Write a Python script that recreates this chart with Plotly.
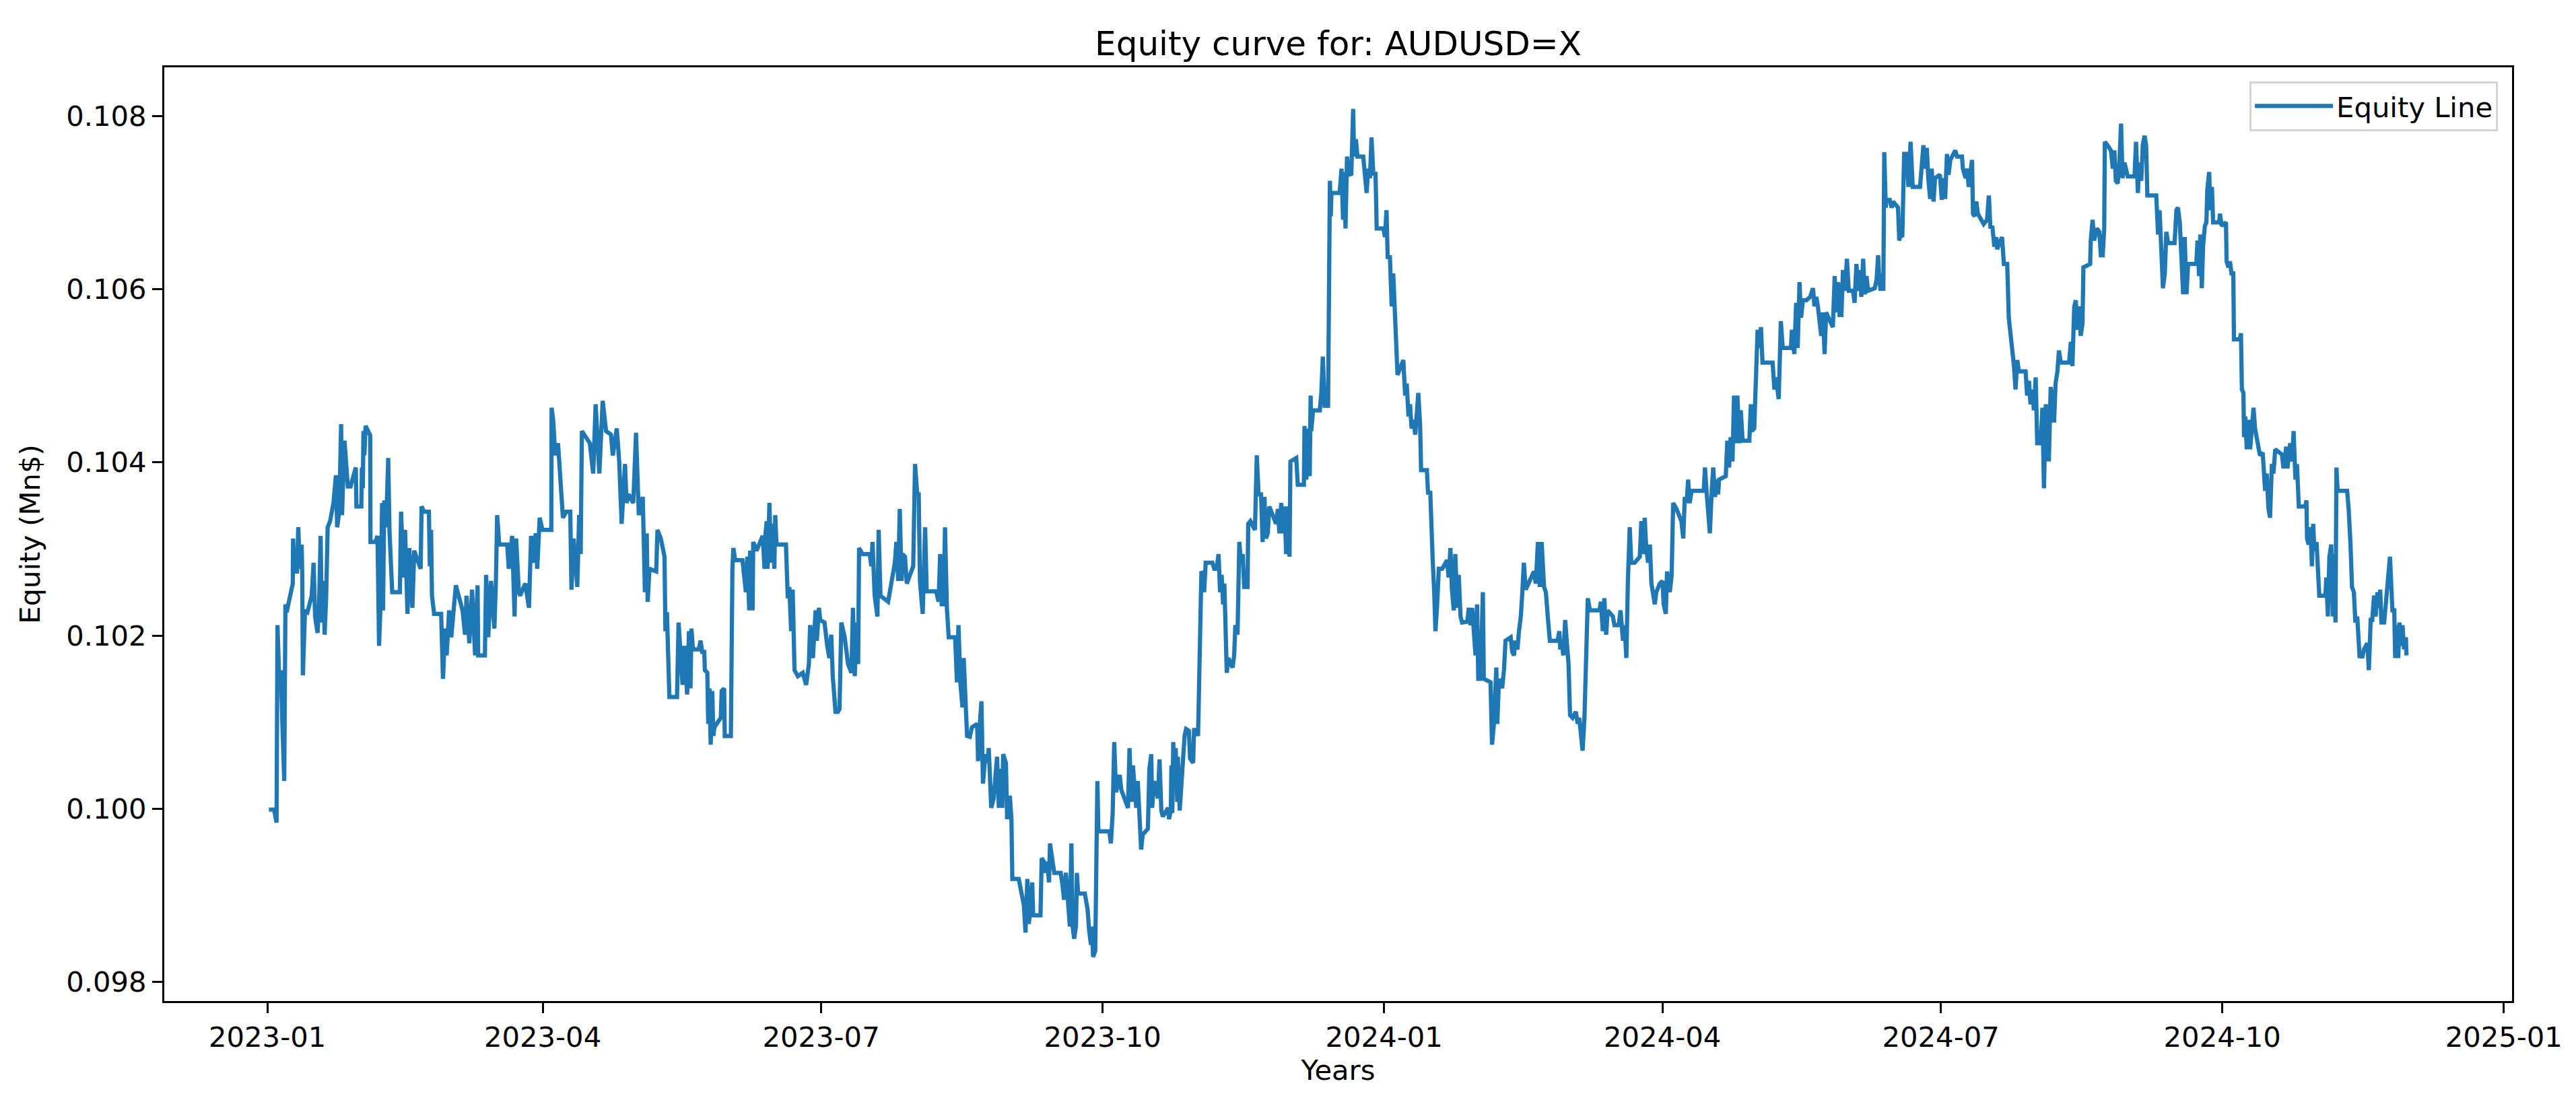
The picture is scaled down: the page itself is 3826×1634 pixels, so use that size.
import numpy as np
import pandas as pd
import plotly.graph_objects as go

# Equity curve: day offsets from 2023-01-01 and equity (Mn$)
START = pd.Timestamp("2023-01-01")

# Jan - mid May 2023
days_a = [0.5, 2.2, 3.0, 3.3, 3.9, 4.4, 4.9, 5.5, 5.9, 6.3,
          8.3, 8.4, 8.8, 9.7, 10.1, 10.6, 11.2, 11.4, 11.6, 12.3,
          13.1, 14.5, 15.1, 15.6, 16.4, 16.9, 17.4, 17.8, 18.3, 18.7,
          19.2, 19.7, 20.5, 21.6, 22.4, 22.8, 23.5, 24.1, 24.4, 25.2,
          25.7, 26.3, 27.2, 28.9, 29.1, 30.7, 30.9, 31.2, 31.4, 31.7,
          32.1, 33.6, 33.7, 35.3, 36.0, 36.5, 37.0, 37.5, 37.8, 38.2,
          38.8, 39.5, 39.9, 40.8, 43.3, 43.7, 44.5, 45.0, 45.8, 46.4,
          47.4, 48.0, 50.1, 50.4, 51.2, 52.8, 53.1, 53.5, 53.8, 54.5,
          56.8, 57.4, 58.1, 58.6, 59.4, 60.1, 61.6, 63.8, 64.6, 65.1,
          66.0, 66.9, 67.9, 68.7, 68.9, 71.1, 71.5, 72.2, 73.1, 74.2,
          74.7, 75.1, 75.8, 78.4, 78.9, 80.0, 80.8, 81.3, 82.2, 82.6,
          84.3, 85.5, 86.2, 87.1, 87.7, 88.2, 89.0, 89.9, 92.8, 92.9,
          93.4, 94.1, 95.0, 96.6, 97.7, 99.0, 99.4, 100.1, 101.3, 101.9,
          102.4, 102.8, 105.4, 106.5, 107.3, 108.5, 109.6, 110.7, 112.3, 112.9,
          114.2, 115.0, 115.8, 116.4, 116.9, 117.4, 118.1, 119.6, 120.5, 121.4,
          122.7, 123.4, 124.0, 124.3, 124.9, 127.1, 127.5, 128.6, 129.8, 130.1,
          130.6, 131.4, 133.9, 134.4, 135.7, 136.3, 137.2]
equity_a = [0.09999, 0.09999, 0.09984, 0.10212, 0.10146, 0.10160, 0.10098, 0.10032, 0.10236, 0.10227,
            0.10260, 0.10312, 0.10274, 0.10274, 0.10325, 0.10277, 0.10305, 0.10270, 0.10154, 0.10229,
            0.10227, 0.10246, 0.10284, 0.10222, 0.10203, 0.10236, 0.10315, 0.10215, 0.10263, 0.10201,
            0.10243, 0.10325, 0.10332, 0.10353, 0.10385, 0.10325, 0.10343, 0.10444, 0.10339, 0.10425,
            0.10401, 0.10372, 0.10372, 0.10394, 0.10349, 0.10349, 0.10394, 0.10370, 0.10436, 0.10408,
            0.10442, 0.10431, 0.10308, 0.10308, 0.10315, 0.10188, 0.10236, 0.10353, 0.10229, 0.10356,
            0.10325, 0.10405, 0.10322, 0.10250, 0.10250, 0.10343, 0.10267, 0.10322, 0.10225, 0.10301,
            0.10232, 0.10298, 0.10277, 0.10349, 0.10343, 0.10343, 0.10280, 0.10322, 0.10246, 0.10225,
            0.10225, 0.10150, 0.10208, 0.10177, 0.10229, 0.10198, 0.10258, 0.10229, 0.10201, 0.10246,
            0.10191, 0.10253, 0.10177, 0.10258, 0.10177, 0.10177, 0.10270, 0.10198, 0.10263, 0.10208,
            0.10263, 0.10339, 0.10305, 0.10305, 0.10277, 0.10315, 0.10222, 0.10312, 0.10250, 0.10246,
            0.10260, 0.10232, 0.10315, 0.10284, 0.10318, 0.10277, 0.10336, 0.10322, 0.10322, 0.10463,
            0.10449, 0.10408, 0.10422, 0.10336, 0.10343, 0.10343, 0.10253, 0.10312, 0.10256, 0.10339,
            0.10294, 0.10436, 0.10422, 0.10387, 0.10467, 0.10387, 0.10471, 0.10436, 0.10432, 0.10408,
            0.10439, 0.10401, 0.10329, 0.10370, 0.10398, 0.10353, 0.10363, 0.10353, 0.10434, 0.10339,
            0.10360, 0.10250, 0.10318, 0.10239, 0.10277, 0.10274, 0.10322, 0.10312, 0.10291, 0.10205,
            0.10227, 0.10129, 0.10129, 0.10215, 0.10143, 0.10188, 0.10132]

# mid May - early Nov 2023
days_b = [137.3, 137.8, 138.3, 138.6, 139.1, 141.0, 141.6, 142.1, 142.8, 143.0,
          143.8, 144.1, 144.5, 144.9, 145.4, 145.8, 146.1, 148.2, 148.5, 149.3,
          149.5, 151.5, 151.7, 152.0, 152.3, 152.9, 155.3, 155.8, 156.4, 156.9,
          157.5, 157.8, 158.6, 158.8, 159.9, 161.9, 162.5, 162.7, 163.2, 163.5,
          164.1, 164.6, 165.2, 165.7, 166.0, 166.4, 169.5, 170.1, 170.6, 171.2,
          171.7, 172.3, 173.4, 175.0, 176.1, 177.0, 177.4, 178.3, 179.2, 179.6,
          180.3, 180.7, 182.1, 183.0, 183.7, 184.3, 184.8, 185.7, 186.5, 187.0,
          187.6, 188.7, 189.8, 190.9, 191.4, 192.0, 192.5, 193.1, 193.4, 194.5,
          196.9, 197.4, 197.8, 198.5, 199.4, 199.8, 200.4, 202.9, 204.2, 205.1,
          205.6, 206.2, 206.7, 207.3, 207.6, 208.4, 209.0, 211.1, 211.7, 212.4,
          212.9, 213.3, 214.2, 215.0, 215.5, 218.6, 219.4, 219.9, 220.4, 221.0,
          221.5, 222.1, 222.7, 224.8, 225.4, 225.9, 226.5, 227.2, 227.6, 228.1,
          228.7, 229.6, 230.3, 232.0, 232.3, 232.8, 233.4, 233.9, 234.7, 235.3,
          235.8, 236.6, 237.4, 238.5, 239.1, 239.6, 240.2, 240.5, 241.4, 241.8,
          242.7, 243.2, 243.5, 245.6, 246.7, 247.3, 247.8, 248.4, 248.9, 249.5,
          250.0, 250.3, 252.7, 253.1, 253.8, 254.4, 254.9, 255.5, 255.8, 257.2,
          259.3, 259.9, 260.4, 261.0, 261.5, 262.3, 262.8, 263.2, 263.7, 264.3,
          264.6, 265.0, 267.2, 268.1, 268.6, 269.2, 269.5, 269.9, 270.6, 270.9,
          271.3, 271.6, 272.0, 275.2, 275.7, 276.3, 276.8, 277.4, 278.6, 279.1,
          281.3, 281.8, 282.4, 282.9, 283.4, 284.0, 284.5, 285.0, 285.6, 286.1,
          287.8, 288.3, 288.9, 289.2, 289.8, 291.1, 291.6, 292.2, 292.7, 294.4,
          294.7, 295.3, 295.5, 295.8, 296.1, 296.6, 296.9, 297.4, 297.6, 298.2,
          298.7, 299.3, 299.8, 300.3, 301.2, 301.6, 302.6, 302.9, 303.7, 304.2,
          304.6, 305.0, 305.3, 305.9]
equity_b = [0.10139, 0.10205, 0.10139, 0.10208, 0.10184, 0.10184, 0.10194, 0.10181, 0.10181, 0.10160,
            0.10157, 0.10098, 0.10139, 0.10074, 0.10136, 0.10084, 0.10094, 0.10105, 0.10136, 0.10139,
            0.10084, 0.10084, 0.10222, 0.10277, 0.10301, 0.10287, 0.10287, 0.10267, 0.10250, 0.10291,
            0.10229, 0.10298, 0.10229, 0.10308, 0.10298, 0.10315, 0.10277, 0.10312, 0.10332, 0.10277,
            0.10353, 0.10284, 0.10329, 0.10277, 0.10339, 0.10305, 0.10305, 0.10243, 0.10256, 0.10205,
            0.10253, 0.10160, 0.10153, 0.10157, 0.10143, 0.10167, 0.10212, 0.10174, 0.10229, 0.10194,
            0.10232, 0.10218, 0.10215, 0.10188, 0.10174, 0.10201, 0.10153, 0.10112, 0.10112, 0.10115,
            0.10215, 0.10198, 0.10167, 0.10157, 0.10232, 0.10153, 0.10215, 0.10167, 0.10301, 0.10294,
            0.10294, 0.10280, 0.10308, 0.10246, 0.10222, 0.10322, 0.10246, 0.10239, 0.10270, 0.10284,
            0.10308, 0.10263, 0.10346, 0.10263, 0.10294, 0.10291, 0.10260, 0.10280, 0.10398, 0.10363,
            0.10363, 0.10263, 0.10225, 0.10325, 0.10251, 0.10251, 0.10239, 0.10294, 0.10236, 0.10236,
            0.10325, 0.10232, 0.10198, 0.10198, 0.10146, 0.10212, 0.10146, 0.10117, 0.10174, 0.10122,
            0.10084, 0.10083, 0.10094, 0.10098, 0.10055, 0.10094, 0.10124, 0.10029, 0.10063, 0.10053,
            0.10070, 0.10001, 0.10012, 0.10060, 0.10001, 0.10046, 0.10001, 0.10063, 0.10053, 0.09988,
            0.10015, 0.09988, 0.09919, 0.09919, 0.09895, 0.09888, 0.09857, 0.09919, 0.09867, 0.09891,
            0.09915, 0.09877, 0.09877, 0.09943, 0.09939, 0.09926, 0.09939, 0.09915, 0.09960, 0.09926,
            0.09926, 0.09912, 0.09895, 0.09926, 0.09895, 0.09864, 0.09960, 0.09864, 0.09850, 0.09864,
            0.09926, 0.09902, 0.09902, 0.09884, 0.09860, 0.09843, 0.09864, 0.09829, 0.09836, 0.09919,
            0.10032, 0.09977, 0.09974, 0.09974, 0.09960, 0.09995, 0.10077, 0.10019, 0.10039, 0.10022,
            0.10001, 0.10070, 0.10008, 0.10050, 0.10022, 0.10001, 0.10032, 0.09995, 0.09953, 0.09970,
            0.09977, 0.10046, 0.10063, 0.10001, 0.10032, 0.10012, 0.10057, 0.09998, 0.09991, 0.10001,
            0.09988, 0.09998, 0.10050, 0.09995, 0.10077, 0.10029, 0.10070, 0.10008, 0.10060, 0.09998,
            0.10029, 0.10057, 0.10084, 0.10092, 0.10090, 0.10058, 0.10053, 0.10091, 0.10091, 0.10084,
            0.10160, 0.10246, 0.10274, 0.10270]

# Nov 2023 - mid Apr 2024
days_c = [306.2, 306.7, 308.9, 309.5, 310.3, 310.9, 311.4, 311.9, 312.4, 312.8,
          313.3, 313.6, 314.1, 315.5, 316.0, 316.4, 317.1, 317.7, 318.2, 318.8,
          319.3, 320.4, 320.6, 321.3, 322.8, 323.4, 324.0, 324.8, 325.3, 325.9,
          326.4, 327.0, 327.5, 329.7, 330.3, 330.8, 331.4, 331.9, 332.5, 333.0,
          333.5, 334.1, 334.4, 336.3, 336.8, 338.8, 339.0, 339.6, 340.1, 340.7,
          341.0, 341.2, 341.8, 344.0, 344.5, 345.0, 345.6, 346.1, 346.7, 346.9,
          347.3, 347.6, 347.8, 350.5, 351.1, 351.6, 352.0, 352.4, 352.9, 353.5,
          354.3, 354.9, 355.2, 355.8, 356.3, 358.2, 358.7, 359.3, 359.8, 360.4,
          360.9, 361.5, 362.2, 362.6, 364.8, 365.3, 365.8, 366.2, 366.9, 367.5,
          368.0, 368.6, 369.1, 369.4, 370.2, 371.3, 371.9, 372.4, 373.0, 373.5,
          374.0, 374.6, 375.2, 375.7, 376.2, 376.8, 377.1, 379.0, 379.4, 380.1,
          380.5, 380.9, 381.4, 381.8, 382.3, 382.9, 384.0, 385.6, 386.1, 386.7,
          387.2, 387.8, 388.3, 388.9, 389.4, 390.0, 390.5, 392.2, 392.7, 393.3,
          393.8, 394.4, 394.9, 395.4, 395.8, 396.5, 397.3, 397.6, 399.8, 400.3,
          400.9, 401.7, 402.0, 402.5, 403.1, 403.6, 404.2, 404.7, 406.4, 406.9,
          407.5, 407.8, 408.6, 409.1, 409.7, 410.2, 410.7, 411.3, 412.6, 414.0,
          414.6, 415.3, 415.9, 416.5, 417.3, 417.9, 418.6, 419.2, 421.7, 422.3,
          422.6, 423.1, 423.6, 424.2, 424.7, 425.3, 425.8, 426.6, 427.7, 428.3,
          428.8, 429.4, 429.9, 430.5, 431.0, 431.6, 432.3, 435.4, 435.9, 436.5,
          437.0, 437.6, 438.1, 439.2, 439.8, 440.3, 441.7, 442.3, 443.1, 443.6,
          444.2, 444.7, 445.3, 445.8, 446.9, 448.6, 449.1, 449.7, 450.2, 450.7,
          451.3, 451.9, 452.4, 453.5, 454.0, 455.1, 456.0, 456.4, 457.1, 457.5,
          458.4, 459.0, 459.5, 460.6, 462.2, 462.8, 463.3, 463.9, 464.4, 464.9,
          465.5, 469.5, 469.9, 470.4, 471.0, 471.5, 472.1, 472.6, 473.2]
equity_c = [0.10250, 0.10284, 0.10284, 0.10277, 0.10277, 0.10294, 0.10250, 0.10270, 0.10236, 0.10260,
            0.10167, 0.10157, 0.10174, 0.10163, 0.10177, 0.10212, 0.10201, 0.10308, 0.10284, 0.10294,
            0.10256, 0.10256, 0.10329, 0.10332, 0.10322, 0.10408, 0.10363, 0.10363, 0.10308, 0.10360,
            0.10312, 0.10318, 0.10349, 0.10329, 0.10346, 0.10318, 0.10353, 0.10318, 0.10349, 0.10294,
            0.10349, 0.10291, 0.10401, 0.10405, 0.10374, 0.10374, 0.10442, 0.10380, 0.10439, 0.10384,
            0.10477, 0.10436, 0.10460, 0.10460, 0.10480, 0.10522, 0.10463, 0.10487, 0.10463, 0.10642,
            0.10725, 0.10684, 0.10711, 0.10711, 0.10739, 0.10680, 0.10735, 0.10670, 0.10753, 0.10732,
            0.10733, 0.10808, 0.10753, 0.10773, 0.10753, 0.10753, 0.10735, 0.10711, 0.10739, 0.10728,
            0.10775, 0.10732, 0.10735, 0.10670, 0.10670, 0.10660, 0.10691, 0.10635, 0.10639, 0.10580,
            0.10618, 0.10553, 0.10525, 0.10501, 0.10508, 0.10518, 0.10477, 0.10491, 0.10453, 0.10467,
            0.10439, 0.10449, 0.10432, 0.10463, 0.10480, 0.10442, 0.10391, 0.10391, 0.10363, 0.10367,
            0.10312, 0.10287, 0.10250, 0.10205, 0.10232, 0.10277, 0.10277, 0.10287, 0.10267, 0.10301,
            0.10253, 0.10229, 0.10294, 0.10232, 0.10270, 0.10222, 0.10215, 0.10216, 0.10232, 0.10212,
            0.10232, 0.10205, 0.10177, 0.10236, 0.10150, 0.10150, 0.10250, 0.10150, 0.10146, 0.10074,
            0.10098, 0.10163, 0.10098, 0.10143, 0.10150, 0.10139, 0.10160, 0.10194, 0.10198, 0.10181,
            0.10177, 0.10194, 0.10184, 0.10205, 0.10222, 0.10250, 0.10284, 0.10253, 0.10263, 0.10274,
            0.10260, 0.10308, 0.10256, 0.10308, 0.10256, 0.10250, 0.10218, 0.10194, 0.10194, 0.10205,
            0.10184, 0.10191, 0.10177, 0.10218, 0.10194, 0.10167, 0.10108, 0.10105, 0.10112, 0.10098,
            0.10105, 0.10084, 0.10067, 0.10105, 0.10194, 0.10243, 0.10229, 0.10229, 0.10239, 0.10205,
            0.10243, 0.10201, 0.10229, 0.10225, 0.10222, 0.10212, 0.10212, 0.10229, 0.10194, 0.10212,
            0.10174, 0.10263, 0.10325, 0.10284, 0.10284, 0.10291, 0.10332, 0.10294, 0.10336, 0.10301,
            0.10284, 0.10305, 0.10260, 0.10236, 0.10250, 0.10260, 0.10263, 0.10236, 0.10225, 0.10274,
            0.10250, 0.10270, 0.10353, 0.10346, 0.10332, 0.10312, 0.10360, 0.10353, 0.10380, 0.10353,
            0.10367, 0.10367, 0.10394, 0.10367, 0.10343, 0.10318, 0.10367, 0.10394, 0.10360]

# mid Apr - Sep 2024
days_d = [473.6, 474.2, 474.5, 476.7, 477.2, 477.8, 478.3, 478.9, 479.4, 480.0,
          480.5, 481.1, 481.6, 482.2, 484.4, 484.9, 485.2, 486.0, 486.5, 487.1,
          487.6, 488.2, 488.7, 492.0, 492.6, 493.1, 494.0, 494.7, 495.3, 498.0,
          498.3, 499.1, 499.7, 500.2, 500.8, 501.3, 501.9, 503.0, 504.3, 505.2,
          505.7, 506.3, 506.8, 507.3, 507.9, 508.4, 509.0, 509.5, 510.6, 511.7,
          512.3, 512.8, 513.4, 513.9, 514.5, 515.0, 515.6, 516.3, 516.9, 518.3,
          518.8, 519.4, 519.9, 520.5, 521.0, 521.6, 522.1, 522.7, 523.2, 525.4,
          526.0, 526.5, 526.8, 527.3, 527.6, 528.2, 528.5, 529.0, 529.2, 530.3,
          530.9, 531.4, 533.0, 533.4, 533.8, 534.4, 534.7, 535.0, 535.8, 536.4,
          537.1, 537.8, 540.2, 540.7, 541.3, 541.8, 542.4, 542.9, 543.5, 544.0,
          544.6, 545.1, 546.7, 547.3, 547.9, 548.4, 549.0, 549.5, 550.1, 551.7,
          552.3, 553.9, 554.2, 555.1, 555.6, 556.1, 556.6, 557.2, 557.5, 558.0,
          558.6, 559.1, 561.0, 562.1, 562.7, 563.2, 563.8, 564.5, 565.1, 565.4,
          566.5, 567.0, 567.6, 568.7, 569.2, 569.8, 570.3, 570.9, 571.4, 572.0,
          572.5, 574.7, 575.2, 575.8, 576.3, 576.9, 577.4, 578.0, 578.5, 579.6,
          580.2, 580.7, 581.3, 581.8, 582.3, 582.9, 583.4, 584.0, 584.5, 585.1,
          585.6, 586.2, 588.9, 589.5, 590.0, 590.6, 591.1, 591.7, 592.2, 592.7,
          593.3, 593.6, 595.8, 596.0, 596.6, 597.1, 598.0, 598.8, 599.3, 599.9,
          600.4, 600.6, 601.5, 602.6, 603.2, 603.7, 604.2, 604.8, 605.3, 605.9,
          606.4, 607.0, 608.1, 610.3, 610.8, 611.4, 611.9, 612.5, 613.0, 613.6,
          614.1, 614.5, 617.4, 618.0, 618.5, 619.1, 619.6, 620.2, 620.7, 621.3,
          623.4, 624.0, 624.5, 625.1, 625.6, 626.2, 626.7, 627.3, 627.8]
equity_d = [0.10380, 0.10363, 0.10380, 0.10384, 0.10425, 0.10394, 0.10429, 0.10401, 0.10477, 0.10422,
            0.10477, 0.10422, 0.10460, 0.10425, 0.10425, 0.10467, 0.10436, 0.10439, 0.10480, 0.10553,
            0.10532, 0.10556, 0.10515, 0.10515, 0.10484, 0.10498, 0.10473, 0.10563, 0.10532, 0.10532,
            0.10553, 0.10525, 0.10584, 0.10532, 0.10608, 0.10567, 0.10587, 0.10587, 0.10591, 0.10601,
            0.10580, 0.10591, 0.10580, 0.10567, 0.10546, 0.10573, 0.10525, 0.10573, 0.10563, 0.10556,
            0.10615, 0.10573, 0.10608, 0.10570, 0.10570, 0.10622, 0.10598, 0.10635, 0.10598, 0.10598,
            0.10584, 0.10629, 0.10598, 0.10622, 0.10591, 0.10635, 0.10594, 0.10615, 0.10598, 0.10601,
            0.10611, 0.10639, 0.10615, 0.10598, 0.10618, 0.10598, 0.10758, 0.10694, 0.10703, 0.10703,
            0.10694, 0.10701, 0.10694, 0.10656, 0.10663, 0.10660, 0.10739, 0.10756, 0.10756, 0.10718,
            0.10770, 0.10718, 0.10718, 0.10749, 0.10766, 0.10739, 0.10763, 0.10728, 0.10704, 0.10739,
            0.10701, 0.10728, 0.10732, 0.10703, 0.10728, 0.10704, 0.10756, 0.10732, 0.10749, 0.10760,
            0.10753, 0.10753, 0.10739, 0.10728, 0.10739, 0.10718, 0.10732, 0.10749, 0.10687, 0.10684,
            0.10701, 0.10687, 0.10675, 0.10680, 0.10708, 0.10670, 0.10673, 0.10649, 0.10660, 0.10646,
            0.10656, 0.10660, 0.10629, 0.10629, 0.10567, 0.10549, 0.10536, 0.10511, 0.10484, 0.10518,
            0.10505, 0.10505, 0.10477, 0.10494, 0.10467, 0.10484, 0.10460, 0.10498, 0.10422, 0.10422,
            0.10463, 0.10370, 0.10467, 0.10449, 0.10401, 0.10487, 0.10470, 0.10446, 0.10491, 0.10505,
            0.10529, 0.10515, 0.10515, 0.10539, 0.10511, 0.10580, 0.10587, 0.10553, 0.10580, 0.10546,
            0.10560, 0.10625, 0.10629, 0.10656, 0.10680, 0.10656, 0.10670, 0.10666, 0.10639, 0.10639,
            0.10670, 0.10770, 0.10766, 0.10760, 0.10739, 0.10760, 0.10725, 0.10722, 0.10742, 0.10791,
            0.10728, 0.10746, 0.10730, 0.10730, 0.10770, 0.10711, 0.10746, 0.10725, 0.10766, 0.10777,
            0.10766, 0.10708, 0.10708, 0.10663, 0.10691, 0.10632, 0.10601, 0.10618, 0.10666, 0.10653,
            0.10653, 0.10691, 0.10694, 0.10677, 0.10625, 0.10594, 0.10660, 0.10594, 0.10629]

# Sep - end Nov 2024
days_e = [630.5, 630.9, 631.4, 631.8, 632.3, 632.7, 633.3, 633.8, 634.1, 634.7,
          635.1, 635.6, 636.0, 638.0, 638.2, 638.8, 640.2, 640.4, 641.0, 641.5,
          642.0, 642.6, 642.8, 644.7, 645.1, 645.4, 645.9, 646.1, 646.5, 647.0,
          647.5, 648.1, 648.6, 649.2, 649.7, 650.3, 651.3, 652.2, 653.0, 653.5,
          654.1, 654.6, 655.2, 655.7, 656.3, 658.5, 659.0, 659.9, 660.3, 660.7,
          661.2, 661.8, 662.3, 662.9, 663.4, 664.0, 666.1, 666.5, 666.7, 667.2,
          667.8, 668.3, 668.7, 669.1, 669.8, 670.2, 670.7, 672.7, 673.0, 673.5,
          674.0, 674.6, 675.1, 675.4, 676.0, 676.3, 676.7, 679.8, 680.3, 680.9,
          681.4, 682.0, 682.5, 683.1, 683.4, 683.9, 684.2, 684.7, 685.3, 686.4,
          686.9, 687.5, 688.0, 688.6, 689.1, 689.7, 690.2, 690.6, 691.0, 691.9,
          693.8, 694.3, 694.6, 695.2, 695.5, 696.0, 696.5, 696.9, 697.3, 697.9,
          698.4, 699.0, 699.2]
equity_e = [0.10629, 0.10656, 0.10615, 0.10663, 0.10601, 0.10649, 0.10673, 0.10677, 0.10715, 0.10735,
            0.10691, 0.10718, 0.10677, 0.10677, 0.10687, 0.10673, 0.10677, 0.10632, 0.10625, 0.10632,
            0.10618, 0.10618, 0.10542, 0.10542, 0.10549, 0.10484, 0.10480, 0.10429, 0.10453, 0.10415,
            0.10449, 0.10415, 0.10442, 0.10463, 0.10439, 0.10425, 0.10408, 0.10411, 0.10367, 0.10387,
            0.10346, 0.10336, 0.10398, 0.10387, 0.10415, 0.10409, 0.10393, 0.10418, 0.10393, 0.10408,
            0.10422, 0.10401, 0.10436, 0.10380, 0.10398, 0.10349, 0.10349, 0.10356, 0.10312, 0.10305,
            0.10325, 0.10280, 0.10329, 0.10298, 0.10308, 0.10280, 0.10246, 0.10246, 0.10267, 0.10222,
            0.10291, 0.10305, 0.10222, 0.10294, 0.10215, 0.10394, 0.10367, 0.10367, 0.10346, 0.10305,
            0.10256, 0.10250, 0.10215, 0.10222, 0.10194, 0.10174, 0.10181, 0.10174, 0.10184, 0.10191,
            0.10160, 0.10218, 0.10218, 0.10246, 0.10222, 0.10250, 0.10232, 0.10253, 0.10215, 0.10215,
            0.10291, 0.10256, 0.10229, 0.10229, 0.10174, 0.10212, 0.10174, 0.10215, 0.10188, 0.10212,
            0.10184, 0.10198, 0.10177]

# Axis ticks
x_tick_dates = ["2023-01-01", "2023-04-01", "2023-07-01", "2023-10-01", "2024-01-01",
                "2024-04-01", "2024-07-01", "2024-10-01", "2025-01-01"]
x_tick_labels = ["2023-01", "2023-04", "2023-07", "2023-10", "2024-01",
                 "2024-04", "2024-07", "2024-10", "2025-01"]
y_ticks = [0.098, 0.100, 0.102, 0.104, 0.106, 0.108]

days = days_a + days_b + days_c + days_d + days_e
equity = equity_a + equity_b + equity_c + equity_d + equity_e
assert len(days) == len(equity)

dates = START + pd.to_timedelta(np.array(days), unit="D")

fig = go.Figure()
fig.add_trace(go.Scatter(x=dates, y=equity, mode="lines", name="Equity Line",
                         showlegend=True,
                         line=dict(color="#1f77b4", width=6.25)))

font_family = "DejaVu Sans"
axis_style = dict(showline=True, linecolor="black", linewidth=3.3, mirror=True,
                  ticks="outside", ticklen=15, tickwidth=3.3, tickcolor="black",
                  showgrid=False, zeroline=False,
                  tickfont=dict(family=font_family, size=41.7, color="black"))

fig.update_layout(
    width=3826, height=1634,
    margin=dict(l=236, r=103, t=92, b=155),
    paper_bgcolor="white", plot_bgcolor="white",
    font=dict(family=font_family, size=41.7, color="black"),
    showlegend=True,
    title=dict(text="Equity curve for: AUDUSD=X", x=0.5, xref="paper", xanchor="center",
               y=1, yref="paper", yanchor="bottom", pad=dict(b=18),
               font=dict(family=font_family, size=50, color="black")),
    legend=dict(x=0.994, y=0.985, xanchor="right", yanchor="top",
                bgcolor="rgba(255,255,255,0.8)", bordercolor="#d5d5d5", borderwidth=3,
                font=dict(family=font_family, size=41.7, color="black"),
                itemwidth=116),
)

fig.update_xaxes(
    **axis_style,
    range=[START - pd.Timedelta(days=33.7), START + pd.Timedelta(days=733.7)],
    tickvals=x_tick_dates, ticktext=x_tick_labels,
    title=dict(text="Years", standoff=5, font=dict(family=font_family, size=41.7)),
)
fig.update_yaxes(
    **axis_style,
    range=[0.09778, 0.10856],
    tickvals=y_ticks, ticktext=[f"{v:.3f}" for v in y_ticks],
    title=dict(text="Equity (Mn$)", standoff=26, font=dict(family=font_family, size=41.7)),
)

fig.write_html("out.html")
